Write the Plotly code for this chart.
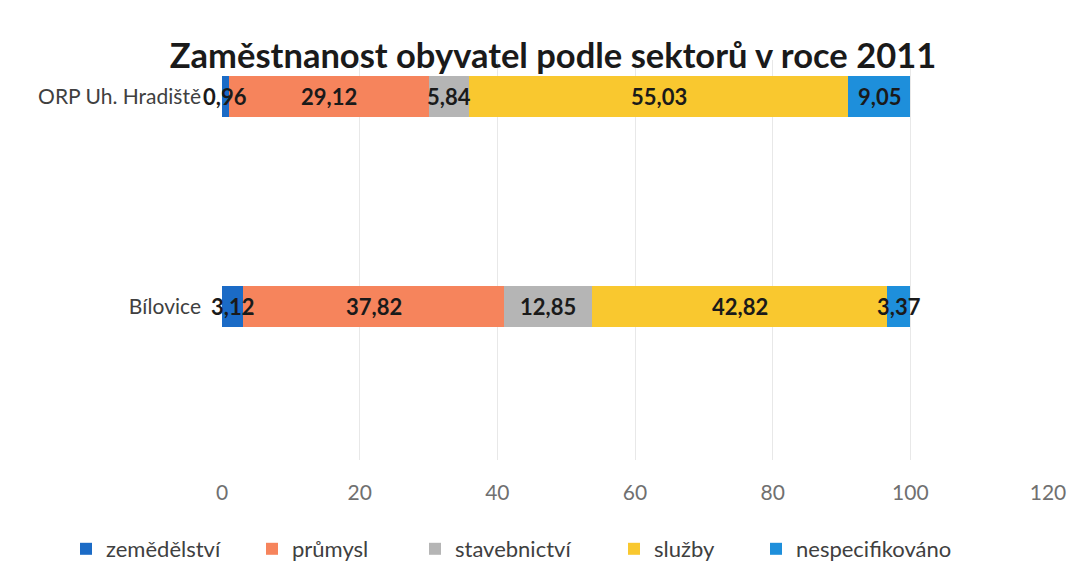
import plotly.graph_objects as go

categories = ["Bílovice", "ORP Uh. Hradiště"]
sectors = ["zemědělství", "průmysl", "stavebnictví", "služby", "nespecifikováno"]
values = {
    "zemědělství": [3.12, 0.96],
    "průmysl": [37.82, 29.12],
    "stavebnictví": [12.85, 5.84],
    "služby": [42.82, 55.03],
    "nespecifikováno": [3.37, 9.05],
}
colors = ["#1B6BC6", "#F6845C", "#B5B5B5", "#F9C82F", "#1E8FDB"]
x_ticks = [0, 20, 40, 60, 80, 100, 120]

FONT = "Lato, 'Open Sans', sans-serif"
W, H = 1080, 573
ML, MR, MT, MB = 222, 32, 60, 113
PW = W - ML - MR
PH = H - MT - MB

# legend text start positions in pixels (layout only)
legend_text_px = [106, 292, 455, 654, 796]

fig = go.Figure()
cum = [0.0] * len(categories)
annotations = []
legends = {}
for k, (s, c) in enumerate(zip(sectors, colors)):
    vals = values[s]
    lname = "legend" if k == 0 else f"legend{k + 1}"
    fig.add_trace(go.Bar(
        y=categories, x=vals, name=s, orientation="h",
        marker=dict(color=c, line=dict(width=0)), width=0.195,
        legend=lname,
    ))
    legends[lname] = dict(
        x=(legend_text_px[k] - 40 - ML) / PW, xanchor="left",
        y=(PH - (549 - MT)) / PH, yanchor="middle",
        orientation="h", bgcolor="rgba(0,0,0,0)",
        font=dict(family=FONT, size=22, color="#404040"),
        itemwidth=30,
    )
    for i, v in enumerate(vals):
        annotations.append(dict(
            x=cum[i] + v / 2, y=categories[i], xref="x", yref="y",
            text=f"<b>{v:.2f}</b>".replace(".", ","), showarrow=False,
            font=dict(family=FONT, size=22, color="#1a1a1a"),
        ))
        cum[i] += v

fig.update_layout(
    barmode="stack",
    width=W, height=H,
    margin=dict(l=ML, r=MR, t=MT, b=MB, autoexpand=False),
    paper_bgcolor="white", plot_bgcolor="white",
    showlegend=True,
    title=dict(
        text="<b>Zaměstnanost obyvatel podle sektorů v roce 2011</b>",
        x=553 / W, xanchor="center", y=1 - 56 / H, yanchor="middle",
        font=dict(family=FONT, size=34.5, color="#1a1a1a"),
    ),
    xaxis=dict(
        range=[0, 120], tickvals=x_ticks, showgrid=True,
        gridcolor="#E8E8E8", gridwidth=1, zeroline=False,
        showline=False, ticks="", ticklabelstandoff=18,
        tickfont=dict(family=FONT, size=21, color="#707070"),
        automargin=False,
    ),
    yaxis=dict(
        type="category", categoryarray=categories, categoryorder="array",
        range=[-0.729, 1.176], showgrid=False, zeroline=False,
        showline=False, ticks="", ticklabelstandoff=20,
        tickfont=dict(family=FONT, size=21, color="#404040"),
        automargin=False,
    ),
    annotations=annotations,
    bargap=0,
    **legends,
)

fig.write_html(
    "out.html",
    config={"displayModeBar": False},
    post_script="document.body.style.margin='0';",
)
